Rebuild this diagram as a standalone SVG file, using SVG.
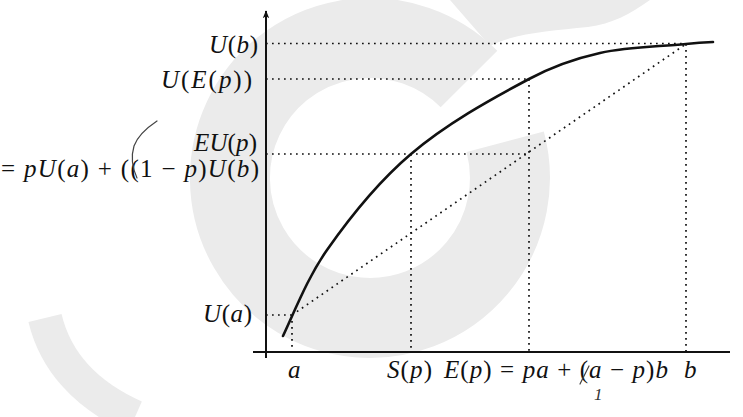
<svg xmlns="http://www.w3.org/2000/svg" width="743" height="417" viewBox="0 0 743 417">
<style>
.lbl{font-size:25px;fill:#111}
.i{font-style:italic}
.dot{fill:none;stroke:#111;stroke-width:1.7;stroke-dasharray:1.7 4.3}
.ax{fill:none;stroke:#111;stroke-width:2}
.wm{fill:none;stroke:#ebebeb}
</style>
<defs>
<marker id="arr" viewBox="0 0 10 10" refX="9" refY="5" markerWidth="8" markerHeight="8" markerUnits="userSpaceOnUse" orient="auto">
<path d="M0,1 L10,5 L0,9 L2.5,5 Z" fill="#111"/>
</marker>
</defs>
<g id="watermark">
<path class="wm" stroke-width="80" d="M505.2,141.8 A140,140 0 1 1 469,79"/>
<path fill="#ebebeb" d="M450,0 L650,0 C630,14 612,24 588,27 C550,31 515,33 490,46 Z"/>
<path class="wm" stroke-width="34" d="M45,318 C55,360 85,395 135,417"/>
</g>
<g id="axes">
<line class="ax" x1="266" y1="358" x2="266" y2="11" marker-end="url(#arr)"/>
<line class="ax" x1="253" y1="352" x2="730" y2="352"/>
</g>
<g id="connectors">
<path class="dot" d="M266,43.5 H686 M686,44 V352"/>
<path class="dot" d="M266,79 H529 M529,79 V352"/>
<path class="dot" d="M266,154 H528"/>
<path class="dot" d="M411,154 V352"/>
<path class="dot" d="M266,315 H292 M292,315 V352"/>
<path class="dot" d="M292,315 L686,44"/>
</g>
<g id="curve">
<path fill="none" stroke="#111" stroke-width="2.6" stroke-linecap="round" d="M283,336 C296.5,306.8 308.5,276.3 327,250 C351.4,215.2 378.6,181.5 411,154 C446.6,123.9 487.9,100.9 529,79 C551.2,67.1 575.4,58.5 600,53 C628.1,46.7 657.3,46.8 686,44 C695,43.1 704,42.45 713,42"/>
</g>
<g id="labels" font-family="Liberation Serif, Times New Roman, serif">
<text class="lbl" x="209" y="53" textLength="49"><tspan class="i">U</tspan>(<tspan class="i">b</tspan>)</text>
<text class="lbl" x="161" y="88" textLength="91"><tspan class="i">U</tspan>(<tspan class="i">E</tspan>(<tspan class="i">p</tspan>))</text>
<text class="lbl" x="194" y="151" textLength="63"><tspan class="i">EU</tspan>(<tspan class="i">p</tspan>)</text>
<text class="lbl" x="1" y="177" textLength="258">= <tspan class="i">pU</tspan>(<tspan class="i">a</tspan>) + ((1 − <tspan class="i">p</tspan>)<tspan class="i">U</tspan>(<tspan class="i">b</tspan>)</text>
<text class="lbl" x="203" y="322" textLength="49"><tspan class="i">U</tspan>(<tspan class="i">a</tspan>)</text>
<text class="lbl i" x="288" y="378">a</text>
<text class="lbl" x="387" y="378" textLength="45"><tspan class="i">S</tspan>(<tspan class="i">p</tspan>)</text>
<text class="lbl" x="444" y="378" textLength="224"><tspan class="i">E</tspan>(<tspan class="i">p</tspan>) = <tspan class="i">pa</tspan> + (<tspan class="i">a</tspan> − <tspan class="i">p</tspan>)<tspan class="i">b</tspan></text>
<text class="lbl i" x="684" y="378">b</text>
<text x="594" y="400" font-size="17" font-style="italic" fill="#333">1</text>
</g>
<g id="handwriting" fill="none" stroke="#444" stroke-width="1.2" stroke-linecap="round">
<path d="M157,121 C148,127 138,135 134,146 C131,156 132,167 137,178"/>
<path d="M580,384 L589,366"/>
</g>
</svg>
